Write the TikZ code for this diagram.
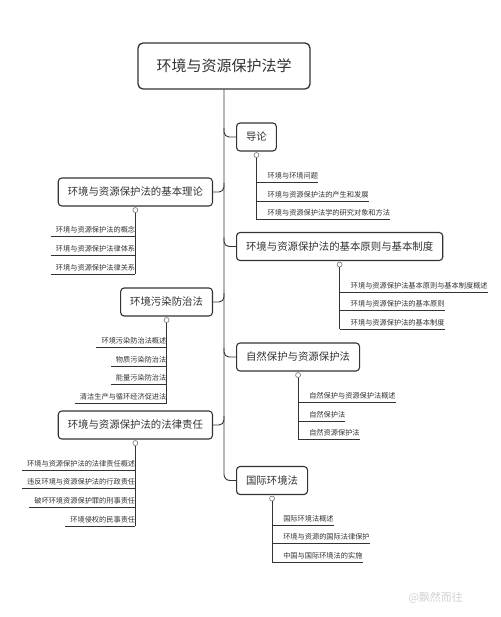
\documentclass[tikz,border=0pt]{standalone}
\usepackage{fontspec}
\setmainfont{Noto Sans CJK SC}
\usetikzlibrary{calc}
\definecolor{ink}{HTML}{333333}
\begin{document}
\begin{tikzpicture}[x=1pt,y=-1pt,
  rootbox/.style={draw=ink, line width=1.3pt, rounded corners=5pt, fill=white, text=ink,
    font=\fontsize{15}{17}\selectfont, minimum width=172pt, minimum height=46pt, inner sep=0pt},
  box/.style={draw=ink, line width=1.1pt, rounded corners=3.5pt, fill=white, text=ink,
    font=\fontsize{10.4}{12}\selectfont, minimum height=28pt, inner xsep=9.5pt, inner ysep=0pt},
  leaf/.style={inner xsep=0pt, inner ysep=3pt, text=ink, font=\fontsize{7.2}{8.5}\selectfont},
  dot/.style={circle, draw=black!55, fill=white, inner sep=0pt, minimum size=5pt, line width=0.6pt},
  conn/.style={draw=ink, line width=0.9pt},
  uline/.style={draw=ink, line width=0.8pt}]
\useasboundingbox (0,0) rectangle (500,617);
\fill[white] (0,0) rectangle (500,617);

% root
\node[rootbox] (root) at (224,66) {环境与资源保护法学};

% main branches
\node[box, anchor=west] (g1) at (236,137) {导论};
\node[box, anchor=west] (g2) at (236,246.5) {环境与资源保护法的基本原则与基本制度};
\node[box, anchor=west] (g3) at (236,357) {自然保护与资源保护法};
\node[box, anchor=west] (g4) at (236,480.5) {国际环境法};
\node[box, anchor=east] (b1) at (213,192) {环境与资源保护法的基本理论};
\node[box, anchor=east] (b2) at (213,302) {环境污染防治法};
\node[box, anchor=east] (b3) at (213,425) {环境与资源保护法的法律责任};

% spine and branch connectors
\draw[conn, rounded corners=6pt] (root.south) |- (g4.west);
\foreach \g in {g1,g2,g3}
  \draw[conn, rounded corners=5pt] ($(root.south |- \g.west)+(0,-9)$) |- (\g.west);
\foreach \b in {b1,b2,b3}
  \draw[conn, rounded corners=5pt] ($(root.south |- \b.east)+(0,-9)$) |- (\b.east);

% dots
\foreach \n in {g1,g2,g3,g4,b1,b2,b3}
  \node[dot] (d\n) at ($(\n.south)+(0,3.5)$) {};

% leaves: right side
\newcommand{\rleaf}[4]{% name, dot, y, text
  \node[leaf, anchor=south west] (#1) at (#2 |- 0,#3) {\hspace{11pt}#4\hspace{5pt}};
  \draw[uline] (#1.south west) -- (#1.south east);}
\newcommand{\lleaf}[4]{% name, dot, y, text
  \node[leaf, anchor=south east] (#1) at (#2 |- 0,#3) {\hspace{5pt}#4\hspace{12pt}};
  \draw[uline] (#1.south west) -- (#1.south east);}

\rleaf{a1}{dg1}{182}{环境与环境问题}
\rleaf{a2}{dg1}{201}{环境与资源保护法的产生和发展}
\rleaf{a3}{dg1}{219}{环境与资源保护法学的研究对象和方法}
\draw[conn] (dg1.south) -- (a3.south west);

\rleaf{c1}{dg2}{292}{环境与资源保护法基本原则与基本制度概述}
\rleaf{c2}{dg2}{310}{环境与资源保护法的基本原则}
\rleaf{c3}{dg2}{329}{环境与资源保护法的基本制度}
\draw[conn] (dg2.south) -- (c3.south west);

\rleaf{e1}{dg3}{402}{自然保护与资源保护法概述}
\rleaf{e2}{dg3}{421}{自然保护法}
\rleaf{e3}{dg3}{439}{自然资源保护法}
\draw[conn] (dg3.south) -- (e3.south west);

\rleaf{f1}{dg4}{525}{国际环境法概述}
\rleaf{f2}{dg4}{543}{环境与资源的国际法律保护}
\rleaf{f3}{dg4}{562}{中国与国际环境法的实施}
\draw[conn] (dg4.south) -- (f3.south west);

% leaves: left side
\lleaf{p1}{db1}{236}{环境与资源保护法的概念}
\lleaf{p2}{db1}{255}{环境与资源保护法律体系}
\lleaf{p3}{db1}{274}{环境与资源保护法律关系}
\draw[conn] (db1.south) -- (p3.south east);

\lleaf{q1}{db2}{347}{环境污染防治法概述}
\lleaf{q2}{db2}{366}{物质污染防治法}
\lleaf{q3}{db2}{384}{能量污染防治法}
\lleaf{q4}{db2}{403}{清洁生产与循环经济促进法}
\draw[conn] (db2.south) -- (q4.south east);

\lleaf{r1}{db3}{470}{环境与资源保护法的法律责任概述}
\lleaf{r2}{db3}{488}{违反环境与资源保护法的行政责任}
\lleaf{r3}{db3}{507}{破坏环境资源保护罪的刑事责任}
\lleaf{r4}{db3}{526}{环境侵权的民事责任}
\draw[conn] (db3.south) -- (r4.south east);

% watermark
\node[text=black!18, font=\fontsize{11}{12}\selectfont, anchor=west] (wm) at (405,598) {@飘然而往};
\end{tikzpicture}
\end{document}
